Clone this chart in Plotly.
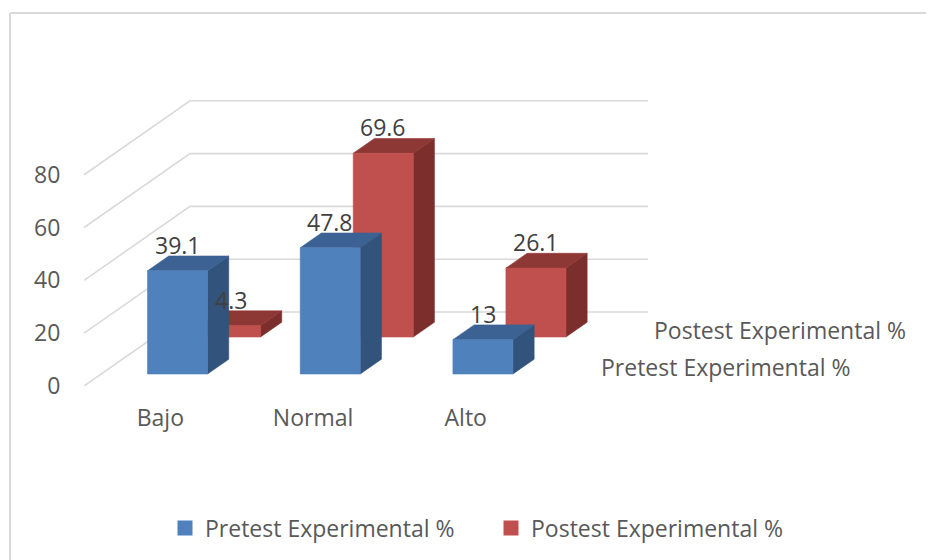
import plotly.graph_objects as go

# ---------------- data ----------------
categories = ["Bajo", "Normal", "Alto"]
pretest = [39.1, 47.8, 13]
postest = [4.3, 69.6, 26.1]
series_names = ["Pretest Experimental %", "Postest Experimental %"]
y_ticks = [0, 20, 40, 60, 80]

# ---------------- geometry / style ----------------
OFF = 8                 # page body margin in the browser
W, H = 934 - OFF, 560 - OFF
PX_CAT = 152.7          # pixels per category
PX_VAL = 2.64           # pixels per value unit
ML = 84 - OFF
PLOT_BOTTOM = 386 - OFF
MB = H - PLOT_BOTTOM
MT = 40 - OFF
PLOT_RIGHT = 924 - OFF
MR = W - PLOT_RIGHT
PLOT_W = W - ML - MR
PLOT_H = H - MT - MB

DEPTH_X = 106 / PX_CAT  # full wall depth in category units
DEPTH_Y = 74 / PX_VAL   # full wall depth in value units
BAR_HALF = 0.1965
BAR_DEPTH = 0.2
ROW_D = [0.162, 0.662]  # depth of the front face: pretest row, postest row

FONT = "Open Sans"
FS = 23
TICK_COL = "#595959"
LABEL_COL = "#404040"
GRID_COL = "#d9d9d9"

FACE_COLORS = [
    {"front": "#4f81bd", "top": "#3b6293", "side": "#32537c"},
    {"front": "#c0504d", "top": "#8e3836", "side": "#7c2e2c"},
]


def proj(x, v, d):
    return x + d * DEPTH_X, v + d * DEPTH_Y


fig = go.Figure()

# ---------------- walls (gridlines) ----------------
gx, gy = [], []
x_left = -0.5
x_right = len(categories) - 0.5
for v in y_ticks:
    p0 = proj(x_left, v, 0)
    p1 = proj(x_left, v, 1)
    p2 = proj(x_right, v, 1)
    gx += [p0[0], p1[0], p2[0], None]
    gy += [p0[1], p1[1], p2[1], None]
fig.add_trace(go.Scatter(x=gx, y=gy, mode="lines", line=dict(color=GRID_COL, width=1.6),
                         hoverinfo="skip", showlegend=False))


# ---------------- bars ----------------
def add_bars(values, d0, colors):
    faces = {"front": ([], []), "top": ([], []), "side": ([], [])}
    d1 = d0 + BAR_DEPTH
    for i, v in enumerate(values):
        xl, xr = i - BAR_HALF, i + BAR_HALF
        polys = {
            "front": [(xl, 0, d0), (xr, 0, d0), (xr, v, d0), (xl, v, d0)],
            "top": [(xl, v, d0), (xr, v, d0), (xr, v, d1), (xl, v, d1)],
            "side": [(xr, 0, d0), (xr, 0, d1), (xr, v, d1), (xr, v, d0)],
        }
        for k, pts in polys.items():
            for (x, y, d) in pts + [pts[0]]:
                px, py = proj(x, y, d)
                faces[k][0].append(px)
                faces[k][1].append(py)
            faces[k][0].append(None)
            faces[k][1].append(None)
    for k in ["side", "top", "front"]:
        fig.add_trace(go.Scatter(x=faces[k][0], y=faces[k][1], mode="lines", fill="toself",
                                 fillcolor=colors[k], line=dict(color=colors[k], width=0.6),
                                 hoverinfo="skip", showlegend=False))


# back row first, then front row
add_bars(postest, ROW_D[1], FACE_COLORS[1])
add_bars(pretest, ROW_D[0], FACE_COLORS[0])

# ---------------- legend entries ----------------
for name, col in zip(series_names, FACE_COLORS):
    fig.add_trace(go.Scatter(x=[None], y=[None], mode="markers", name=name,
                             marker=dict(symbol="square", size=15, color=col["front"]),
                             hoverinfo="skip"))

# ---------------- annotations: data labels ----------------
annotations = []
for values, d0 in [(postest, ROW_D[1]), (pretest, ROW_D[0])]:
    for i, v in enumerate(values):
        px, py = proj(i, v, d0)
        annotations.append(dict(x=px, y=py, xref="x", yref="y", text=f"{v:g}", showarrow=False,
                                yshift=26, font=dict(family=FONT, size=FS, color=LABEL_COL)))

# depth-axis labels
for name, d0 in zip(series_names, ROW_D):
    px, py = proj(x_right, 0, d0 + BAR_DEPTH / 2)
    annotations.append(dict(x=px, y=py, xref="x", yref="y", text=name, showarrow=False,
                            xanchor="left", xshift=29,
                            font=dict(family=FONT, size=FS, color=TICK_COL)))


# ---------------- frame ----------------
def pxx(s):
    return (s - OFF - ML) / PLOT_W


def pxy(s):
    return (H - MB - (s - OFF)) / PLOT_H


shapes = [
    dict(type="line", xref="paper", yref="paper", x0=pxx(10), y0=pxy(13), x1=pxx(933), y1=pxy(13),
         line=dict(color="#d9d9d9", width=2)),
    dict(type="line", xref="paper", yref="paper", x0=pxx(10), y0=pxy(13), x1=pxx(10), y1=pxy(560),
         line=dict(color="#d9d9d9", width=2)),
]

fig.update_layout(
    width=W, height=H,
    margin=dict(l=ML, r=MR, t=MT, b=MB, pad=0),
    paper_bgcolor="white", plot_bgcolor="white",
    font=dict(family=FONT, size=FS, color=TICK_COL),
    xaxis=dict(range=[-0.5, -0.5 + PLOT_W / PX_CAT], tickvals=list(range(len(categories))),
               ticktext=categories, showgrid=False, zeroline=False, showline=False,
               ticks="outside", ticklen=11, tickcolor="rgba(0,0,0,0)", fixedrange=True,
               automargin=False),
    yaxis=dict(range=[0, PLOT_H / PX_VAL], tickvals=y_ticks, showgrid=False, zeroline=False,
               showline=False, ticks="outside", ticklen=18, tickcolor="rgba(0,0,0,0)",
               fixedrange=True, automargin=False),
    showlegend=True,
    legend=dict(orientation="h", xref="container", yref="container",
                x=(165 - OFF) / W, y=(560 - 528) / H, xanchor="left", yanchor="middle",
                entrywidth=281, font=dict(family=FONT, size=FS, color=TICK_COL),
                bgcolor="rgba(0,0,0,0)"),
    annotations=annotations,
    shapes=shapes,
    hovermode=False,
)

fig.write_html("out.html")
